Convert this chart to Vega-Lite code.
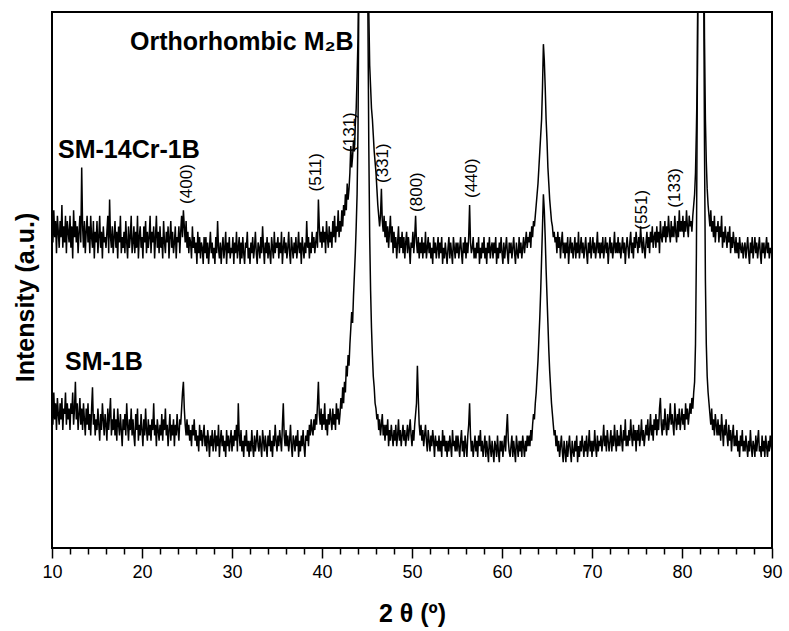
{
  "$schema": "https://vega.github.io/schema/vega-lite/v6.json",
  "width": 720,
  "height": 536,
  "autosize": {"type": "none"},
  "padding": {"left": 52, "top": 12, "right": 17, "bottom": 83},
  "config": {
    "view": {"stroke": "#000", "strokeWidth": 2},
    "font": "Liberation Sans",
    "axis": {"labelFont": "Liberation Sans", "titleFont": "Liberation Sans", "labelColor": "#000", "titleColor": "#000"}
  },
  "datasets": {
    "xrd": [
{"x":10.0,"a":60,"b":26},{"x":10.1,"a":57,"b":23},{"x":10.2,"a":63,"b":29},{"x":10.3,"a":58,"b":24},{"x":10.4,"a":61,"b":27},{"x":10.5,"a":55,"b":22},{"x":10.6,"a":62,"b":28},{"x":10.7,"a":59,"b":25},{"x":10.8,"a":56,"b":23},{"x":10.9,"a":61,"b":27},
{"x":11.0,"a":58,"b":24},{"x":11.1,"a":64,"b":28},{"x":11.2,"a":56,"b":22},{"x":11.3,"a":60,"b":26},{"x":11.4,"a":57,"b":25},{"x":11.5,"a":62,"b":29},{"x":11.6,"a":55,"b":23},{"x":11.7,"a":61,"b":27},{"x":11.8,"a":59,"b":24},{"x":11.9,"a":57,"b":26},
{"x":12.0,"a":62,"b":22},{"x":12.1,"a":56,"b":27},{"x":12.2,"a":60,"b":25},{"x":12.3,"a":54,"b":29},{"x":12.4,"a":63,"b":23},{"x":12.5,"a":58,"b":26},{"x":12.6,"a":61,"b":31},{"x":12.7,"a":57,"b":24},{"x":12.8,"a":60,"b":27},{"x":12.9,"a":55,"b":22},
{"x":13.0,"a":59,"b":25},{"x":13.1,"a":62,"b":28},{"x":13.2,"a":57,"b":23},{"x":13.3,"a":71,"b":26},{"x":13.4,"a":60,"b":22},{"x":13.5,"a":56,"b":27},{"x":13.6,"a":61,"b":24},{"x":13.7,"a":55,"b":21},{"x":13.8,"a":59,"b":26},{"x":13.9,"a":62,"b":23},
{"x":14.0,"a":57,"b":27},{"x":14.1,"a":60,"b":22},{"x":14.2,"a":55,"b":25},{"x":14.3,"a":62,"b":21},{"x":14.4,"a":58,"b":26},{"x":14.5,"a":56,"b":30},{"x":14.6,"a":61,"b":23},{"x":14.7,"a":54,"b":25},{"x":14.8,"a":59,"b":21},{"x":14.9,"a":57,"b":24},
{"x":15.0,"a":61,"b":22},{"x":15.1,"a":55,"b":26},{"x":15.2,"a":58,"b":23},{"x":15.3,"a":62,"b":20},{"x":15.4,"a":56,"b":25},{"x":15.5,"a":59,"b":22},{"x":15.6,"a":54,"b":27},{"x":15.7,"a":60,"b":24},{"x":15.8,"a":57,"b":21},{"x":15.9,"a":58,"b":25},
{"x":16.0,"a":56,"b":23},{"x":16.1,"a":59,"b":20},{"x":16.2,"a":62,"b":26},{"x":16.3,"a":55,"b":22},{"x":16.4,"a":65,"b":25},{"x":16.5,"a":58,"b":28},{"x":16.6,"a":56,"b":21},{"x":16.7,"a":60,"b":24},{"x":16.8,"a":55,"b":22},{"x":16.9,"a":58,"b":26},
{"x":17.0,"a":61,"b":21},{"x":17.1,"a":56,"b":24},{"x":17.2,"a":59,"b":20},{"x":17.3,"a":54,"b":26},{"x":17.4,"a":60,"b":23},{"x":17.5,"a":57,"b":21},{"x":17.6,"a":62,"b":25},{"x":17.7,"a":55,"b":22},{"x":17.8,"a":58,"b":19},{"x":17.9,"a":56,"b":24},
{"x":18.0,"a":59,"b":22},{"x":18.1,"a":55,"b":25},{"x":18.2,"a":61,"b":21},{"x":18.3,"a":57,"b":27},{"x":18.4,"a":54,"b":23},{"x":18.5,"a":60,"b":20},{"x":18.6,"a":56,"b":24},{"x":18.7,"a":58,"b":22},{"x":18.8,"a":62,"b":26},{"x":18.9,"a":55,"b":21},
{"x":19.0,"a":57,"b":24},{"x":19.1,"a":60,"b":21},{"x":19.2,"a":55,"b":19},{"x":19.3,"a":59,"b":25},{"x":19.4,"a":56,"b":22},{"x":19.5,"a":62,"b":26},{"x":19.6,"a":54,"b":20},{"x":19.7,"a":58,"b":23},{"x":19.8,"a":60,"b":21},{"x":19.9,"a":56,"b":25},
{"x":20.0,"a":58,"b":22},{"x":20.1,"a":54,"b":19},{"x":20.2,"a":60,"b":24},{"x":20.3,"a":57,"b":21},{"x":20.4,"a":61,"b":26},{"x":20.5,"a":55,"b":22},{"x":20.6,"a":59,"b":20},{"x":20.7,"a":56,"b":24},{"x":20.8,"a":58,"b":21},{"x":20.9,"a":62,"b":23},
{"x":21.0,"a":55,"b":20},{"x":21.1,"a":59,"b":24},{"x":21.2,"a":57,"b":22},{"x":21.3,"a":60,"b":27},{"x":21.4,"a":54,"b":21},{"x":21.5,"a":58,"b":23},{"x":21.6,"a":62,"b":19},{"x":21.7,"a":56,"b":24},{"x":21.8,"a":59,"b":22},{"x":21.9,"a":55,"b":20},
{"x":22.0,"a":60,"b":23},{"x":22.1,"a":56,"b":21},{"x":22.2,"a":58,"b":25},{"x":22.3,"a":54,"b":20},{"x":22.4,"a":61,"b":24},{"x":22.5,"a":57,"b":22},{"x":22.6,"a":55,"b":26},{"x":22.7,"a":59,"b":21},{"x":22.8,"a":57,"b":23},{"x":22.9,"a":60,"b":19},
{"x":23.0,"a":54,"b":22},{"x":23.1,"a":58,"b":25},{"x":23.2,"a":61,"b":20},{"x":23.3,"a":56,"b":23},{"x":23.4,"a":59,"b":21},{"x":23.5,"a":55,"b":24},{"x":23.6,"a":57,"b":19},{"x":23.7,"a":60,"b":23},{"x":23.8,"a":54,"b":21},{"x":23.9,"a":58,"b":25},
{"x":24.0,"a":57,"b":22},{"x":24.1,"a":60,"b":20},{"x":24.2,"a":55,"b":24},{"x":24.3,"a":59,"b":23},{"x":24.4,"a":62,"b":26},{"x":24.5,"a":58,"b":29},{"x":24.6,"a":63,"b":31},{"x":24.7,"a":60,"b":26},{"x":24.8,"a":57,"b":23},{"x":24.9,"a":61,"b":21},
{"x":25.0,"a":56,"b":24},{"x":25.1,"a":59,"b":21},{"x":25.2,"a":55,"b":23},{"x":25.3,"a":58,"b":20},{"x":25.4,"a":57,"b":22},{"x":25.5,"a":54,"b":19},{"x":25.6,"a":60,"b":23},{"x":25.7,"a":56,"b":21},{"x":25.8,"a":58,"b":24},{"x":25.9,"a":55,"b":20},
{"x":26.0,"a":57,"b":22},{"x":26.1,"a":53,"b":19},{"x":26.2,"a":59,"b":21},{"x":26.3,"a":55,"b":18},{"x":26.4,"a":58,"b":23},{"x":26.5,"a":54,"b":20},{"x":26.6,"a":57,"b":22},{"x":26.7,"a":56,"b":19},{"x":26.8,"a":53,"b":21},{"x":26.9,"a":58,"b":23},
{"x":27.0,"a":55,"b":19},{"x":27.1,"a":58,"b":21},{"x":27.2,"a":54,"b":18},{"x":27.3,"a":57,"b":22},{"x":27.4,"a":53,"b":20},{"x":27.5,"a":56,"b":17},{"x":27.6,"a":59,"b":21},{"x":27.7,"a":55,"b":19},{"x":27.8,"a":57,"b":22},{"x":27.9,"a":54,"b":18},
{"x":28.0,"a":56,"b":20},{"x":28.1,"a":53,"b":22},{"x":28.2,"a":58,"b":18},{"x":28.3,"a":55,"b":21},{"x":28.4,"a":61,"b":19},{"x":28.5,"a":56,"b":23},{"x":28.6,"a":54,"b":17},{"x":28.7,"a":57,"b":20},{"x":28.8,"a":53,"b":22},{"x":28.9,"a":56,"b":19},
{"x":29.0,"a":58,"b":21},{"x":29.1,"a":54,"b":18},{"x":29.2,"a":56,"b":20},{"x":29.3,"a":59,"b":17},{"x":29.4,"a":53,"b":22},{"x":29.5,"a":57,"b":19},{"x":29.6,"a":55,"b":21},{"x":29.7,"a":58,"b":18},{"x":29.8,"a":54,"b":20},{"x":29.9,"a":56,"b":22},
{"x":30.0,"a":55,"b":18},{"x":30.1,"a":58,"b":21},{"x":30.2,"a":53,"b":19},{"x":30.3,"a":57,"b":22},{"x":30.4,"a":55,"b":20},{"x":30.5,"a":59,"b":23},{"x":30.6,"a":54,"b":18},{"x":30.7,"a":56,"b":27},{"x":30.8,"a":58,"b":21},{"x":30.9,"a":53,"b":19},
{"x":31.0,"a":57,"b":22},{"x":31.1,"a":54,"b":18},{"x":31.2,"a":58,"b":20},{"x":31.3,"a":55,"b":17},{"x":31.4,"a":53,"b":21},{"x":31.5,"a":57,"b":19},{"x":31.6,"a":56,"b":22},{"x":31.7,"a":59,"b":18},{"x":31.8,"a":54,"b":20},{"x":31.9,"a":56,"b":17},
{"x":32.0,"a":53,"b":20},{"x":32.1,"a":57,"b":18},{"x":32.2,"a":55,"b":22},{"x":32.3,"a":58,"b":19},{"x":32.4,"a":54,"b":17},{"x":32.5,"a":56,"b":21},{"x":32.6,"a":59,"b":18},{"x":32.7,"a":55,"b":20},{"x":32.8,"a":53,"b":22},{"x":32.9,"a":57,"b":19},
{"x":33.0,"a":56,"b":18},{"x":33.1,"a":54,"b":21},{"x":33.2,"a":58,"b":19},{"x":33.3,"a":55,"b":17},{"x":33.4,"a":60,"b":22},{"x":33.5,"a":56,"b":20},{"x":33.6,"a":53,"b":18},{"x":33.7,"a":57,"b":21},{"x":33.8,"a":55,"b":19},{"x":33.9,"a":58,"b":17},
{"x":34.0,"a":54,"b":21},{"x":34.1,"a":57,"b":19},{"x":34.2,"a":55,"b":22},{"x":34.3,"a":53,"b":18},{"x":34.4,"a":58,"b":20},{"x":34.5,"a":56,"b":17},{"x":34.6,"a":54,"b":21},{"x":34.7,"a":59,"b":19},{"x":34.8,"a":55,"b":23},{"x":34.9,"a":57,"b":20},
{"x":35.0,"a":56,"b":18},{"x":35.1,"a":58,"b":21},{"x":35.2,"a":54,"b":19},{"x":35.3,"a":57,"b":22},{"x":35.4,"a":55,"b":20},{"x":35.5,"a":59,"b":18},{"x":35.6,"a":53,"b":23},{"x":35.7,"a":56,"b":27},{"x":35.8,"a":58,"b":21},{"x":35.9,"a":55,"b":19},
{"x":36.0,"a":57,"b":22},{"x":36.1,"a":54,"b":19},{"x":36.2,"a":56,"b":21},{"x":36.3,"a":59,"b":18},{"x":36.4,"a":55,"b":20},{"x":36.5,"a":53,"b":23},{"x":36.6,"a":58,"b":19},{"x":36.7,"a":56,"b":17},{"x":36.8,"a":54,"b":21},{"x":36.9,"a":57,"b":20},
{"x":37.0,"a":55,"b":18},{"x":37.1,"a":58,"b":21},{"x":37.2,"a":54,"b":19},{"x":37.3,"a":56,"b":22},{"x":37.4,"a":59,"b":17},{"x":37.5,"a":55,"b":20},{"x":37.6,"a":57,"b":18},{"x":37.7,"a":53,"b":21},{"x":37.8,"a":58,"b":19},{"x":37.9,"a":56,"b":22},
{"x":38.0,"a":54,"b":19},{"x":38.1,"a":57,"b":17},{"x":38.2,"a":55,"b":21},{"x":38.3,"a":61,"b":20},{"x":38.4,"a":56,"b":22},{"x":38.5,"a":58,"b":19},{"x":38.6,"a":54,"b":23},{"x":38.7,"a":57,"b":21},{"x":38.8,"a":55,"b":24},{"x":38.9,"a":59,"b":22},
{"x":39.0,"a":56,"b":21},{"x":39.1,"a":58,"b":24},{"x":39.2,"a":55,"b":22},{"x":39.3,"a":57,"b":25},{"x":39.4,"a":59,"b":23},{"x":39.5,"a":56,"b":27},{"x":39.6,"a":65,"b":31},{"x":39.7,"a":60,"b":25},{"x":39.8,"a":57,"b":23},{"x":39.9,"a":59,"b":26},
{"x":40.0,"a":56,"b":22},{"x":40.1,"a":60,"b":25},{"x":40.2,"a":57,"b":23},{"x":40.3,"a":59,"b":27},{"x":40.4,"a":55,"b":22},{"x":40.5,"a":61,"b":24},{"x":40.6,"a":58,"b":21},{"x":40.7,"a":56,"b":25},{"x":40.8,"a":60,"b":23},{"x":40.9,"a":57,"b":26},
{"x":41.0,"a":59,"b":24},{"x":41.1,"a":56,"b":22},{"x":41.2,"a":61,"b":26},{"x":41.3,"a":58,"b":23},{"x":41.4,"a":62,"b":25},{"x":41.5,"a":57,"b":22},{"x":41.6,"a":60,"b":27},{"x":41.7,"a":59,"b":24},{"x":41.8,"a":63,"b":26},{"x":41.9,"a":58,"b":23},
{"x":42.0,"a":61,"b":25},{"x":42.1,"a":59,"b":28},{"x":42.2,"a":63,"b":26},{"x":42.3,"a":60,"b":30},{"x":42.4,"a":64,"b":27},{"x":42.5,"a":62,"b":31},{"x":42.6,"a":66,"b":29},{"x":42.7,"a":63,"b":34},{"x":42.8,"a":68,"b":32},{"x":42.9,"a":65,"b":36},
{"x":43.0,"a":67,"b":34},{"x":43.1,"a":70,"b":38},{"x":43.2,"a":75,"b":41},{"x":43.3,"a":71,"b":44},{"x":43.4,"a":73,"b":42},{"x":43.5,"a":76,"b":47},{"x":43.6,"a":74,"b":51},{"x":43.7,"a":79,"b":55},{"x":43.8,"a":82,"b":60},{"x":43.9,"a":88,"b":66},
{"x":44.0,"a":95,"b":78},{"x":44.1,"a":110,"b":105},{"x":44.2,"a":135,"b":130},{"x":44.3,"a":145,"b":145},{"x":44.4,"a":145,"b":145},{"x":44.5,"a":145,"b":145},{"x":44.6,"a":145,"b":145},{"x":44.7,"a":145,"b":145},{"x":44.8,"a":145,"b":145},{"x":44.9,"a":140,"b":140},
{"x":45.0,"a":130,"b":130},{"x":45.1,"a":115,"b":100},{"x":45.2,"a":100,"b":75},{"x":45.3,"a":90,"b":58},{"x":45.4,"a":86,"b":48},{"x":45.5,"a":82,"b":41},{"x":45.6,"a":80,"b":36},{"x":45.7,"a":77,"b":32},{"x":45.8,"a":74,"b":30},{"x":45.9,"a":72,"b":27},
{"x":46.0,"a":70,"b":26},{"x":46.1,"a":67,"b":24},{"x":46.2,"a":64,"b":25},{"x":46.3,"a":62,"b":22},{"x":46.4,"a":60,"b":24},{"x":46.5,"a":62,"b":21},{"x":46.6,"a":67,"b":23},{"x":46.7,"a":61,"b":25},{"x":46.8,"a":59,"b":21},{"x":46.9,"a":62,"b":23},
{"x":47.0,"a":58,"b":20},{"x":47.1,"a":61,"b":23},{"x":47.2,"a":57,"b":21},{"x":47.3,"a":60,"b":24},{"x":47.4,"a":56,"b":19},{"x":47.5,"a":59,"b":22},{"x":47.6,"a":62,"b":20},{"x":47.7,"a":57,"b":23},{"x":47.8,"a":60,"b":21},{"x":47.9,"a":55,"b":19},
{"x":48.0,"a":59,"b":22},{"x":48.1,"a":56,"b":20},{"x":48.2,"a":58,"b":23},{"x":48.3,"a":54,"b":19},{"x":48.4,"a":57,"b":21},{"x":48.5,"a":60,"b":24},{"x":48.6,"a":55,"b":20},{"x":48.7,"a":58,"b":22},{"x":48.8,"a":56,"b":19},{"x":48.9,"a":59,"b":21},
{"x":49.0,"a":55,"b":23},{"x":49.1,"a":58,"b":20},{"x":49.2,"a":54,"b":22},{"x":49.3,"a":57,"b":19},{"x":49.4,"a":59,"b":21},{"x":49.5,"a":55,"b":23},{"x":49.6,"a":58,"b":20},{"x":49.7,"a":56,"b":22},{"x":49.8,"a":53,"b":24},{"x":49.9,"a":57,"b":21},
{"x":50.0,"a":56,"b":19},{"x":50.1,"a":59,"b":22},{"x":50.2,"a":55,"b":20},{"x":50.3,"a":58,"b":23},{"x":50.4,"a":62,"b":25},{"x":50.5,"a":57,"b":27},{"x":50.6,"a":55,"b":34},{"x":50.7,"a":58,"b":28},{"x":50.8,"a":54,"b":23},{"x":50.9,"a":57,"b":21},
{"x":51.0,"a":55,"b":23},{"x":51.1,"a":58,"b":20},{"x":51.2,"a":54,"b":22},{"x":51.3,"a":57,"b":19},{"x":51.4,"a":55,"b":21},{"x":51.5,"a":59,"b":23},{"x":51.6,"a":54,"b":20},{"x":51.7,"a":56,"b":18},{"x":51.8,"a":58,"b":22},{"x":51.9,"a":55,"b":20},
{"x":52.0,"a":57,"b":18},{"x":52.1,"a":54,"b":21},{"x":52.2,"a":56,"b":19},{"x":52.3,"a":53,"b":22},{"x":52.4,"a":58,"b":20},{"x":52.5,"a":55,"b":17},{"x":52.6,"a":57,"b":21},{"x":52.7,"a":54,"b":19},{"x":52.8,"a":56,"b":20},{"x":52.9,"a":58,"b":18},
{"x":53.0,"a":54,"b":21},{"x":53.1,"a":57,"b":18},{"x":53.2,"a":55,"b":20},{"x":53.3,"a":58,"b":17},{"x":53.4,"a":53,"b":22},{"x":53.5,"a":56,"b":19},{"x":53.6,"a":54,"b":21},{"x":53.7,"a":57,"b":18},{"x":53.8,"a":55,"b":20},{"x":53.9,"a":53,"b":17},
{"x":54.0,"a":56,"b":20},{"x":54.1,"a":58,"b":18},{"x":54.2,"a":54,"b":21},{"x":54.3,"a":57,"b":19},{"x":54.4,"a":55,"b":17},{"x":54.5,"a":53,"b":22},{"x":54.6,"a":58,"b":19},{"x":54.7,"a":56,"b":20},{"x":54.8,"a":54,"b":18},{"x":54.9,"a":57,"b":21},
{"x":55.0,"a":55,"b":18},{"x":55.1,"a":57,"b":21},{"x":55.2,"a":54,"b":19},{"x":55.3,"a":56,"b":17},{"x":55.4,"a":58,"b":20},{"x":55.5,"a":55,"b":22},{"x":55.6,"a":53,"b":18},{"x":55.7,"a":57,"b":20},{"x":55.8,"a":55,"b":17},{"x":55.9,"a":58,"b":21},
{"x":56.0,"a":54,"b":19},{"x":56.1,"a":57,"b":17},{"x":56.2,"a":55,"b":21},{"x":56.3,"a":58,"b":23},{"x":56.4,"a":64,"b":27},{"x":56.5,"a":57,"b":21},{"x":56.6,"a":55,"b":18},{"x":56.7,"a":56,"b":20},{"x":56.8,"a":58,"b":17},{"x":56.9,"a":54,"b":19},
{"x":57.0,"a":56,"b":21},{"x":57.1,"a":54,"b":18},{"x":57.2,"a":57,"b":20},{"x":57.3,"a":55,"b":17},{"x":57.4,"a":58,"b":21},{"x":57.5,"a":53,"b":19},{"x":57.6,"a":56,"b":22},{"x":57.7,"a":54,"b":18},{"x":57.8,"a":57,"b":20},{"x":57.9,"a":55,"b":17},
{"x":58.0,"a":58,"b":19},{"x":58.1,"a":54,"b":21},{"x":58.2,"a":56,"b":17},{"x":58.3,"a":53,"b":20},{"x":58.4,"a":57,"b":18},{"x":58.5,"a":55,"b":16},{"x":58.6,"a":58,"b":21},{"x":58.7,"a":54,"b":19},{"x":58.8,"a":56,"b":17},{"x":58.9,"a":57,"b":20},
{"x":59.0,"a":54,"b":18},{"x":59.1,"a":57,"b":16},{"x":59.2,"a":55,"b":20},{"x":59.3,"a":58,"b":19},{"x":59.4,"a":53,"b":17},{"x":59.5,"a":56,"b":21},{"x":59.6,"a":54,"b":18},{"x":59.7,"a":57,"b":16},{"x":59.8,"a":55,"b":20},{"x":59.9,"a":58,"b":18},
{"x":60.0,"a":55,"b":20},{"x":60.1,"a":53,"b":17},{"x":60.2,"a":57,"b":19},{"x":60.3,"a":54,"b":21},{"x":60.4,"a":56,"b":18},{"x":60.5,"a":58,"b":22},{"x":60.6,"a":55,"b":25},{"x":60.7,"a":53,"b":20},{"x":60.8,"a":57,"b":18},{"x":60.9,"a":55,"b":17},
{"x":61.0,"a":57,"b":19},{"x":61.1,"a":54,"b":21},{"x":61.2,"a":56,"b":17},{"x":61.3,"a":58,"b":20},{"x":61.4,"a":55,"b":18},{"x":61.5,"a":53,"b":16},{"x":61.6,"a":57,"b":21},{"x":61.7,"a":55,"b":19},{"x":61.8,"a":54,"b":17},{"x":61.9,"a":58,"b":20},
{"x":62.0,"a":55,"b":18},{"x":62.1,"a":57,"b":20},{"x":62.2,"a":54,"b":17},{"x":62.3,"a":56,"b":21},{"x":62.4,"a":58,"b":19},{"x":62.5,"a":55,"b":17},{"x":62.6,"a":57,"b":20},{"x":62.7,"a":59,"b":18},{"x":62.8,"a":56,"b":21},{"x":62.9,"a":58,"b":19},
{"x":63.0,"a":57,"b":21},{"x":63.1,"a":59,"b":19},{"x":63.2,"a":56,"b":22},{"x":63.3,"a":60,"b":20},{"x":63.4,"a":58,"b":23},{"x":63.5,"a":61,"b":25},{"x":63.6,"a":60,"b":24},{"x":63.7,"a":62,"b":27},{"x":63.8,"a":64,"b":29},{"x":63.9,"a":66,"b":32},
{"x":64.0,"a":68,"b":35},{"x":64.1,"a":71,"b":39},{"x":64.2,"a":74,"b":43},{"x":64.3,"a":77,"b":48},{"x":64.4,"a":80,"b":54},{"x":64.5,"a":86,"b":60},{"x":64.6,"a":94,"b":66},{"x":64.7,"a":91,"b":63},{"x":64.8,"a":86,"b":58},{"x":64.9,"a":80,"b":52},
{"x":65.0,"a":76,"b":47},{"x":65.1,"a":71,"b":42},{"x":65.2,"a":68,"b":37},{"x":65.3,"a":65,"b":33},{"x":65.4,"a":63,"b":30},{"x":65.5,"a":61,"b":27},{"x":65.6,"a":60,"b":25},{"x":65.7,"a":58,"b":23},{"x":65.8,"a":59,"b":21},{"x":65.9,"a":57,"b":22},
{"x":66.0,"a":58,"b":19},{"x":66.1,"a":55,"b":21},{"x":66.2,"a":59,"b":18},{"x":66.3,"a":56,"b":20},{"x":66.4,"a":58,"b":17},{"x":66.5,"a":54,"b":19},{"x":66.6,"a":57,"b":21},{"x":66.7,"a":59,"b":18},{"x":66.8,"a":55,"b":16},{"x":66.9,"a":57,"b":20},
{"x":67.0,"a":54,"b":18},{"x":67.1,"a":57,"b":16},{"x":67.2,"a":55,"b":20},{"x":67.3,"a":58,"b":17},{"x":67.4,"a":53,"b":19},{"x":67.5,"a":56,"b":21},{"x":67.6,"a":58,"b":18},{"x":67.7,"a":55,"b":16},{"x":67.8,"a":57,"b":20},{"x":67.9,"a":54,"b":18},
{"x":68.0,"a":56,"b":17},{"x":68.1,"a":58,"b":20},{"x":68.2,"a":54,"b":18},{"x":68.3,"a":57,"b":21},{"x":68.4,"a":55,"b":16},{"x":68.5,"a":59,"b":19},{"x":68.6,"a":54,"b":17},{"x":68.7,"a":56,"b":20},{"x":68.8,"a":58,"b":18},{"x":68.9,"a":55,"b":21},
{"x":69.0,"a":57,"b":19},{"x":69.1,"a":54,"b":17},{"x":69.2,"a":56,"b":20},{"x":69.3,"a":58,"b":18},{"x":69.4,"a":55,"b":21},{"x":69.5,"a":53,"b":17},{"x":69.6,"a":57,"b":19},{"x":69.7,"a":55,"b":22},{"x":69.8,"a":58,"b":18},{"x":69.9,"a":54,"b":20},
{"x":70.0,"a":56,"b":17},{"x":70.1,"a":58,"b":20},{"x":70.2,"a":55,"b":18},{"x":70.3,"a":57,"b":22},{"x":70.4,"a":54,"b":19},{"x":70.5,"a":56,"b":17},{"x":70.6,"a":59,"b":21},{"x":70.7,"a":55,"b":18},{"x":70.8,"a":57,"b":20},{"x":70.9,"a":54,"b":19},
{"x":71.0,"a":57,"b":21},{"x":71.1,"a":55,"b":18},{"x":71.2,"a":58,"b":20},{"x":71.3,"a":54,"b":23},{"x":71.4,"a":56,"b":19},{"x":71.5,"a":58,"b":21},{"x":71.6,"a":55,"b":18},{"x":71.7,"a":57,"b":22},{"x":71.8,"a":53,"b":20},{"x":71.9,"a":56,"b":18},
{"x":72.0,"a":58,"b":20},{"x":72.1,"a":55,"b":22},{"x":72.2,"a":57,"b":18},{"x":72.3,"a":54,"b":21},{"x":72.4,"a":56,"b":19},{"x":72.5,"a":59,"b":23},{"x":72.6,"a":55,"b":20},{"x":72.7,"a":57,"b":18},{"x":72.8,"a":55,"b":22},{"x":72.9,"a":58,"b":19},
{"x":73.0,"a":55,"b":21},{"x":73.1,"a":57,"b":19},{"x":73.2,"a":54,"b":23},{"x":73.3,"a":56,"b":20},{"x":73.4,"a":58,"b":18},{"x":73.5,"a":55,"b":22},{"x":73.6,"a":57,"b":20},{"x":73.7,"a":53,"b":24},{"x":73.8,"a":56,"b":19},{"x":73.9,"a":58,"b":21},
{"x":74.0,"a":56,"b":19},{"x":74.1,"a":54,"b":22},{"x":74.2,"a":57,"b":20},{"x":74.3,"a":59,"b":24},{"x":74.4,"a":55,"b":21},{"x":74.5,"a":57,"b":19},{"x":74.6,"a":54,"b":23},{"x":74.7,"a":58,"b":20},{"x":74.8,"a":56,"b":22},{"x":74.9,"a":59,"b":18},
{"x":75.0,"a":57,"b":22},{"x":75.1,"a":55,"b":20},{"x":75.2,"a":58,"b":23},{"x":75.3,"a":56,"b":19},{"x":75.4,"a":60,"b":21},{"x":75.5,"a":57,"b":24},{"x":75.6,"a":55,"b":20},{"x":75.7,"a":58,"b":22},{"x":75.8,"a":56,"b":19},{"x":75.9,"a":54,"b":21},
{"x":76.0,"a":57,"b":23},{"x":76.1,"a":59,"b":21},{"x":76.2,"a":56,"b":24},{"x":76.3,"a":58,"b":20},{"x":76.4,"a":55,"b":22},{"x":76.5,"a":59,"b":25},{"x":76.6,"a":57,"b":21},{"x":76.7,"a":60,"b":23},{"x":76.8,"a":56,"b":20},{"x":76.9,"a":58,"b":24},
{"x":77.0,"a":59,"b":22},{"x":77.1,"a":56,"b":25},{"x":77.2,"a":60,"b":21},{"x":77.3,"a":57,"b":24},{"x":77.4,"a":59,"b":22},{"x":77.5,"a":55,"b":26},{"x":77.6,"a":61,"b":28},{"x":77.7,"a":58,"b":23},{"x":77.8,"a":57,"b":21},{"x":77.9,"a":60,"b":24},
{"x":78.0,"a":58,"b":22},{"x":78.1,"a":61,"b":26},{"x":78.2,"a":57,"b":23},{"x":78.3,"a":60,"b":21},{"x":78.4,"a":58,"b":25},{"x":78.5,"a":62,"b":22},{"x":78.6,"a":59,"b":24},{"x":78.7,"a":57,"b":27},{"x":78.8,"a":61,"b":23},{"x":78.9,"a":58,"b":25},
{"x":79.0,"a":60,"b":23},{"x":79.1,"a":58,"b":21},{"x":79.2,"a":62,"b":27},{"x":79.3,"a":59,"b":24},{"x":79.4,"a":57,"b":22},{"x":79.5,"a":61,"b":25},{"x":79.6,"a":58,"b":23},{"x":79.7,"a":63,"b":26},{"x":79.8,"a":59,"b":22},{"x":79.9,"a":61,"b":24},
{"x":80.0,"a":59,"b":26},{"x":80.1,"a":62,"b":23},{"x":80.2,"a":58,"b":25},{"x":80.3,"a":61,"b":22},{"x":80.4,"a":59,"b":27},{"x":80.5,"a":63,"b":24},{"x":80.6,"a":60,"b":26},{"x":80.7,"a":58,"b":23},{"x":80.8,"a":62,"b":25},{"x":80.9,"a":60,"b":27},
{"x":81.0,"a":61,"b":25},{"x":81.1,"a":59,"b":28},{"x":81.2,"a":62,"b":26},{"x":81.3,"a":64,"b":29},{"x":81.4,"a":66,"b":31},{"x":81.5,"a":70,"b":38},{"x":81.6,"a":78,"b":55},{"x":81.7,"a":88,"b":85},{"x":81.8,"a":115,"b":120},{"x":81.9,"a":140,"b":140},
{"x":82.0,"a":145,"b":145},{"x":82.1,"a":145,"b":145},{"x":82.2,"a":145,"b":145},{"x":82.3,"a":145,"b":145},{"x":82.4,"a":120,"b":110},{"x":82.5,"a":95,"b":75},{"x":82.6,"a":80,"b":50},{"x":82.7,"a":72,"b":38},{"x":82.8,"a":67,"b":32},{"x":82.9,"a":64,"b":29},
{"x":83.0,"a":62,"b":27},{"x":83.1,"a":60,"b":25},{"x":83.2,"a":63,"b":23},{"x":83.3,"a":59,"b":26},{"x":83.4,"a":61,"b":22},{"x":83.5,"a":58,"b":24},{"x":83.6,"a":62,"b":21},{"x":83.7,"a":57,"b":25},{"x":83.8,"a":60,"b":23},{"x":83.9,"a":59,"b":21},
{"x":84.0,"a":61,"b":24},{"x":84.1,"a":57,"b":21},{"x":84.2,"a":60,"b":23},{"x":84.3,"a":58,"b":20},{"x":84.4,"a":62,"b":25},{"x":84.5,"a":56,"b":22},{"x":84.6,"a":59,"b":19},{"x":84.7,"a":57,"b":23},{"x":84.8,"a":60,"b":21},{"x":84.9,"a":58,"b":24},
{"x":85.0,"a":56,"b":21},{"x":85.1,"a":59,"b":19},{"x":85.2,"a":57,"b":23},{"x":85.3,"a":60,"b":20},{"x":85.4,"a":55,"b":22},{"x":85.5,"a":58,"b":18},{"x":85.6,"a":56,"b":21},{"x":85.7,"a":59,"b":23},{"x":85.8,"a":57,"b":19},{"x":85.9,"a":55,"b":21},
{"x":86.0,"a":58,"b":19},{"x":86.1,"a":55,"b":22},{"x":86.2,"a":57,"b":18},{"x":86.3,"a":54,"b":20},{"x":86.4,"a":58,"b":17},{"x":86.5,"a":56,"b":21},{"x":86.6,"a":55,"b":19},{"x":86.7,"a":57,"b":22},{"x":86.8,"a":54,"b":18},{"x":86.9,"a":56,"b":20},
{"x":87.0,"a":57,"b":18},{"x":87.1,"a":54,"b":21},{"x":87.2,"a":56,"b":19},{"x":87.3,"a":58,"b":17},{"x":87.4,"a":55,"b":20},{"x":87.5,"a":53,"b":18},{"x":87.6,"a":57,"b":22},{"x":87.7,"a":55,"b":19},{"x":87.8,"a":58,"b":17},{"x":87.9,"a":54,"b":20},
{"x":88.0,"a":56,"b":19},{"x":88.1,"a":58,"b":17},{"x":88.2,"a":55,"b":21},{"x":88.3,"a":57,"b":18},{"x":88.4,"a":54,"b":20},{"x":88.5,"a":56,"b":22},{"x":88.6,"a":58,"b":18},{"x":88.7,"a":55,"b":19},{"x":88.8,"a":53,"b":17},{"x":88.9,"a":57,"b":21},
{"x":89.0,"a":55,"b":18},{"x":89.1,"a":57,"b":20},{"x":89.2,"a":54,"b":17},{"x":89.3,"a":56,"b":21},{"x":89.4,"a":58,"b":19},{"x":89.5,"a":55,"b":17},{"x":89.6,"a":57,"b":20},{"x":89.7,"a":54,"b":18},{"x":89.8,"a":56,"b":21},{"x":89.9,"a":55,"b":19},
{"x":90.0,"a":56,"b":18}
    ],
    "hkl": [
      {"x": 25.0, "y": 67.9, "label": "(400)"},
      {"x": 39.3, "y": 70.1, "label": "(511)"},
      {"x": 43.1, "y": 77.6, "label": "(131)"},
      {"x": 46.8, "y": 71.8, "label": "(331)"},
      {"x": 50.6, "y": 66.4, "label": "(800)"},
      {"x": 56.7, "y": 69.0, "label": "(440)"},
      {"x": 75.6, "y": 63.1, "label": "(551)"},
      {"x": 79.2, "y": 67.2, "label": "(133)"}
    ],
    "names": [
      {"x": 10.67, "y": 72.8, "label": "SM-14Cr-1B"},
      {"x": 11.44, "y": 33.2, "label": "SM-1B"},
      {"x": 18.67, "y": 92.9, "label": "Orthorhombic M₂B"}
    ]
  },
  "layer": [
    {
      "data": {"name": "xrd"},
      "mark": {"type": "line", "color": "#000", "strokeWidth": 1.5, "clip": true},
      "encoding": {
        "x": {
          "field": "x", "type": "quantitative",
          "scale": {"domain": [10, 90], "nice": false, "zero": false},
          "axis": {
            "title": "2 θ (º)",
            "titleFontSize": 25, "titleFontWeight": "bold",
            "titleY": 65, "titleBaseline": "middle",
            "values": [10,12,14,16,18,20,22,24,26,28,30,32,34,36,38,40,42,44,46,48,50,52,54,56,58,60,62,64,66,68,70,72,74,76,78,80,82,84,86,88,90],
            "tickCount": 41,
            "labelExpr": "datum.value % 10 === 0 ? datum.label : ''",
            "labelFontSize": 18, "labelPadding": 5, "labelFlush": false, "labelOverlap": false,
            "domain": false, "grid": false,
            "tickColor": "#000", "tickWidth": 1.5,
            "tickSize": {"condition": {"test": "datum.value % 10 === 0", "value": 10}, "value": 6}
          }
        },
        "y": {
          "field": "a", "type": "quantitative",
          "scale": {"domain": [0, 100], "nice": false, "zero": false},
          "axis": {
            "title": "Intensity (a.u.)",
            "titleFontSize": 25, "titleFontWeight": "bold",
            "titleX": -27, "titleY": 285, "titleAngle": -90,
            "titleAlign": "center", "titleBaseline": "middle",
            "labels": false, "ticks": false, "domain": false, "grid": false
          }
        }
      }
    },
    {
      "data": {"name": "xrd"},
      "mark": {"type": "line", "color": "#000", "strokeWidth": 1.5, "clip": true},
      "encoding": {
        "x": {"field": "x", "type": "quantitative"},
        "y": {"field": "b", "type": "quantitative"}
      }
    },
    {
      "data": {"name": "hkl"},
      "mark": {"type": "text", "angle": 270, "align": "center", "baseline": "middle", "fontSize": 17, "font": "Liberation Sans", "color": "#000"},
      "encoding": {
        "x": {"field": "x", "type": "quantitative"},
        "y": {"field": "y", "type": "quantitative"},
        "text": {"field": "label"}
      }
    },
    {
      "data": {"name": "names"},
      "mark": {"type": "text", "align": "left", "baseline": "alphabetic", "fontSize": 25, "fontWeight": "bold", "font": "Liberation Sans", "color": "#000"},
      "encoding": {
        "x": {"field": "x", "type": "quantitative"},
        "y": {"field": "y", "type": "quantitative"},
        "text": {"field": "label"}
      }
    }
  ]
}
